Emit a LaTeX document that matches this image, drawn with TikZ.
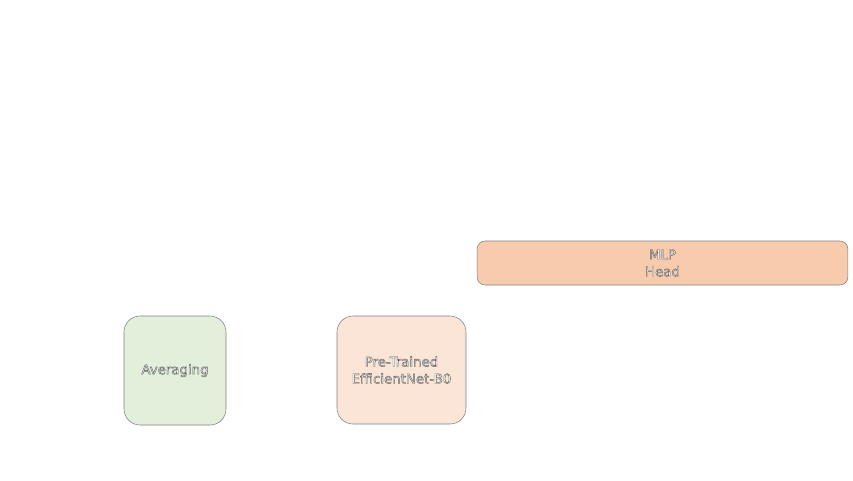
\documentclass[tikz,border=0pt]{standalone}
\usepackage{fontspec}
\setmainfont{DejaVu Sans}
\usepackage{tikz}

\definecolor{mlpfill}{HTML}{F8CBAD}
\definecolor{netfill}{HTML}{FBE5D6}
\definecolor{avgfill}{HTML}{E2EFDA}
\definecolor{edge}{HTML}{7F7F7F}
% white letters with a thin dark rim
\newcommand{\rimtext}[1]{\special{pdf:code 2 Tr 0.3 w 0.35 G 1 g}#1\special{pdf:code 0 Tr 0 G 0 g}}

\begin{document}
\begin{tikzpicture}
[x=0.75pt, y=-0.75pt,
 head/.style ={rectangle, draw=edge, fill=mlpfill, align=center, rounded corners=6pt, font=\fontsize{10}{12.75}\selectfont},
 net/.style ={rectangle, draw=edge, fill=netfill, align=center, rounded corners=12pt, font=\fontsize{10}{12.75}\selectfont},
 avg/.style ={rectangle, draw=edge, fill=avgfill, align=center, rounded corners=12pt, font=\fontsize{10}{12.75}\selectfont}]
\useasboundingbox (0, 0) rectangle (853, 480);
\draw (662.5, 263) node[head, minimum width=278pt, minimum height=33pt] (mlp) {\rimtext{MLP}\\ \rimtext{Head}};
\draw (401.5, 370) node[net, minimum width=96.75pt, minimum height=81pt] (effnet) {\rimtext{Pre-Trained}\\ \rimtext{EfficientNet-B0}};
\draw (175, 370.5) node[avg, minimum width=76.5pt, minimum height=81.75pt] (avg) {\rimtext{Averaging}};
\end{tikzpicture}
\end{document}
